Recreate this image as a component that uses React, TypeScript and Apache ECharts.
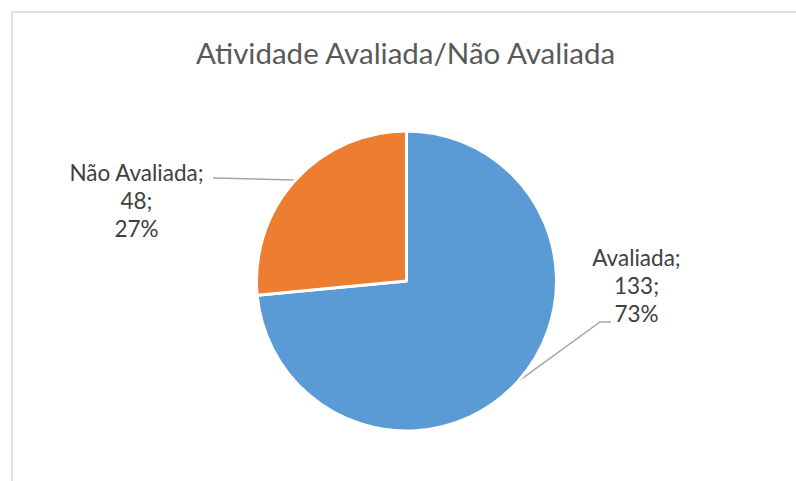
import React, { useEffect, useRef } from "react";
import * as echarts from "echarts";

const categories = ["Avaliada", "Não Avaliada"];
const values = [133, 48];
const colors = ["#5B9BD5", "#ED7D31"];
const titleText = "Atividade Avaliada/Não Avaliada";

export default function App() {
  const ref = useRef<HTMLDivElement>(null);
  useEffect(() => {
    if (!ref.current) return;
    document.body.style.overflow = "hidden";
    const chart = echarts.init(ref.current, undefined, { renderer: "svg" });
    const labelPos = [
      { x: 636.5, y: 285.6, bendDx: -36.5, endDx: -25.5, dy: 36.4 },
      { x: 136.5, y: 200.3, bendDx: 76.5, endDx: 76.5, dy: -22.3 },
    ];
    chart.setOption({
      animation: false,
      backgroundColor: "#ffffff",
      title: {
        text: titleText,
        left: 405.5,
        top: 37,
        padding: 0,
        textAlign: "center",
        textStyle: {
          fontFamily: "Lato",
          fontSize: 29.5,
          fontWeight: "normal",
          color: "#595959",
        },
      },
      graphic: [
        {
          type: "line",
          shape: { x1: 12, y1: 12, x2: 2000, y2: 12 },
          style: { stroke: "#d9d9d9", lineWidth: 1.5 },
          silent: true,
        },
        {
          type: "line",
          shape: { x1: 12, y1: 12, x2: 12, y2: 2000 },
          style: { stroke: "#d9d9d9", lineWidth: 1.5 },
          silent: true,
        },
      ],
      series: [
        {
          type: "pie",
          center: [406.5, 281],
          radius: [0, 150],
          startAngle: 90,
          clockwise: true,
          percentPrecision: 0,
          data: categories.map((c, i) => ({
            name: c,
            value: values[i],
            itemStyle: { color: colors[i] },
          })),
          itemStyle: { borderColor: "#ffffff", borderWidth: 3 },
          label: {
            show: true,
            position: "outside",
            formatter: "{b};\n{c};\n{d}%",
            fontFamily: "Lato",
            fontSize: 22.5,
            lineHeight: 28,
            color: "#404040",
            align: "center",
          },
          labelLine: {
            show: true,
            lineStyle: { color: "#a6a6a6", width: 1.5 },
          },
          labelLayout: (params: any) => {
            const p = labelPos[params.dataIndex];
            const start = params.labelLinePoints
              ? params.labelLinePoints[0]
              : [0, 0];
            return {
              x: p.x,
              y: p.y,
              align: "center",
              verticalAlign: "middle",
              labelLinePoints: [
                start,
                [p.x + p.bendDx, p.y + p.dy],
                [p.x + p.endDx, p.y + p.dy],
              ],
            };
          },
        },
      ],
    });
    return () => chart.dispose();
  }, []);
  return (
    <div
      ref={ref}
      style={{ position: "absolute", left: 0, top: 0, width: 796, height: 481 }}
    />
  );
}
